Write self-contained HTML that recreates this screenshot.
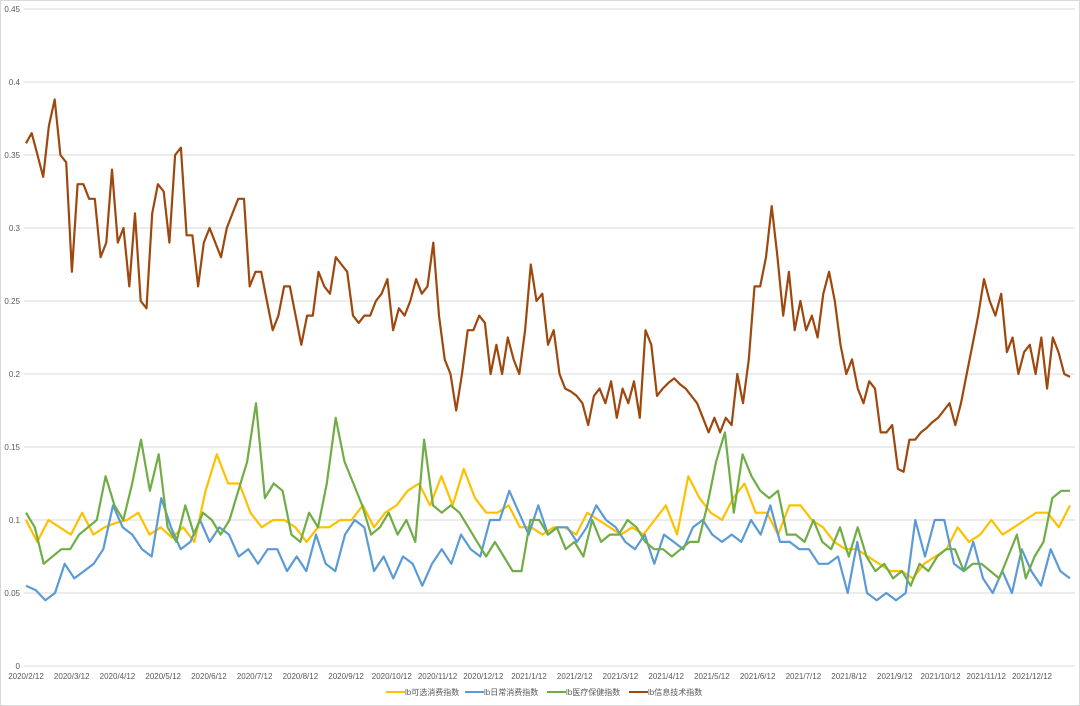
<!DOCTYPE html>
<html><head><meta charset="utf-8"><style>
body{margin:0;background:#fff;}
svg{display:block;font-family:"Liberation Sans","Noto Sans CJK SC",sans-serif;}
</style></head><body>
<svg id="chart" width="1080" height="706">
<rect x="0.5" y="0.5" width="1079" height="705" fill="#fff" stroke="#d9d9d9"/>
<g id="grid"></g><g id="xlab"></g><g id="series"></g><g id="legend"></g>
</svg>
<script>
const yTicks=[0,0.05,0.1,0.15,0.2,0.25,0.3,0.35,0.4,0.45];
const xLabels=["2020/2/12","2020/3/12","2020/4/12","2020/5/12","2020/6/12","2020/7/12","2020/8/12","2020/9/12","2020/10/12","2020/11/12","2020/12/12","2021/1/12","2021/2/12","2021/3/12","2021/4/12","2021/5/12","2021/6/12","2021/7/12","2021/8/12","2021/9/12","2021/10/12","2021/11/12","2021/12/12"];
const seriesNames=["lb可选消费指数","lb日常消费指数","lb医疗保健指数","lb信息技术指数"];
const seriesColors=["#ffc000","#5b9bd5","#70ad47","#9e480e"];
const consumerDisc=[.1,.085,.1,.095,.09,.105,.09,.095,.098,.1,.105,.09,.095,.088,.095,.085,.12,.145,.125,.125,.105,.095,.1,.1,.095,.085,.095,.095,.1,.1,.11,.095,.105,.11,.12,.125,.11,.13,.11,.135,.115,.105,.105,.11,.095,.095,.09,.095,
.095,.09,.105,.1,.095,.09,.095,.09,.1,.11,.09,.13,.115,.105,.1,.115,.125,.105,.105,.09,.11,.11,.1,.095,.085,.08,.08,.075,.07,.065,.065,.06,.07,.075,.08,.095,.085,.09,.1,.09,.095,.1,.105,.105,.095,.11];
const consumerStaples=[.055,.052,.045,.05,.07,.06,.065,.07,.08,.11,.095,.09,.08,.075,.115,.095,.08,.085,.1,.085,.095,.09,.075,.08,.07,.08,.08,.065,.075,.065,.09,.07,.065,.09,.1,.095,.065,.075,.06,.075,.07,.055,.07,.08,.07,.09,.08,.075,.1,.1,.12,.105,.09,.11,.09,.095,
.095,.085,.095,.11,.1,.095,.085,.08,.09,.07,.09,.085,.08,.095,.1,.09,.085,.09,.085,.1,.09,.11,.085,.085,.08,.08,.07,.07,.075,.05,.085,.05,.045,.05,.045,.05,.1,.075,.1,.1,.07,.065,.085,.06,.05,.065,.05,.08,.065,.055,.08,.065,.06];
const healthCare=[.105,.095,.07,.075,.08,.08,.09,.095,.1,.13,.11,.1,.125,.155,.12,.145,.095,.085,.11,.09,.105,.1,.09,.1,.12,.14,.18,.115,.125,.12,.09,.085,.105,.095,.125,.17,.14,.125,.11,.09,.095,.105,.09,.1,.085,.155,.11,.105,.11,.105,.095,.085,.075,.085,.075,.065,.065,.1,.1,.09,.095,.08,.085,.075,.1,
.085,.09,.09,.1,.095,.085,.08,.08,.075,.08,.085,.085,.11,.14,.16,.105,.145,.13,.12,.115,.12,.09,.09,.085,.1,.085,.08,.095,.075,.095,.075,.065,.07,.06,.065,.055,.07,.065,.075,.08,.08,.065,.07,.07,.065,.06,.075,.09,.06,.075,.085,.115,.12,.12];
const infoTech=[.358,.365,.35,.335,.37,.388,.35,.345,.27,.33,.33,.32,.32,.28,.29,.34,.29,.3,.26,.31,.25,.245,.31,.33,.325,.29,.35,.355,.295,.295,.26,.29,.3,.29,.28,.3,.31,.32,.32,.26,.27,.27,.25,.23,.24,.26,.26,.24,.22,.24,.24,.27,.26,.255,.28,.275,.27,.24,.235,.24,.24,.25,.255,.265,.23,.245,.24,.25,.265,.255,.26,.29,.24,.21,.2,.175,.2,.23,.23,.24,.235,.2,.22,.2,.225,.21,.2,.23,.275,.25,.255,.22,.23,.2,.19,.188,.185,.18,.165,.185,.19,.18,.195,.17,.19,.18,.195,.17,.23,.22,.185,.19,.194,.197,.193,.19,.185,.18,.17,.16,.17,.16,.17,.165,.2,.18,.21,.26,.26,.28,.315,.28,.24,.27,.23,.25,.23,.24,.225,.255,.27,.25,.22,.2,.21,.19,.18,.195,.19,.16,.16,.165,.135,.133,.155,.155,.16,.163,.167,.17,.175,.18,.165,.18,.2,.22,.24,.265,.25,.24,.255,.215,.225,.2,.215,.22,.2,.225,.19,.225,.215,.2,.198];
const allSeries=[consumerDisc,consumerStaples,healthCare,infoTech];
const seriesKeys=["consumer-discretionary","consumer-staples","health-care","info-tech"];

const X0=26,X1=1070,Y0=666,YMAX=0.45,YTOP=9;
const y=v=>Y0-(v/YMAX)*(Y0-YTOP);
const xi=(i,n)=>X0+(X1-X0)*i/(n-1);
const ns="http://www.w3.org/2000/svg";
function mk(tag,attrs,parent){const e=document.createElementNS(ns,tag);for(const k in attrs)e.setAttribute(k,attrs[k]);parent.appendChild(e);return e;}
const grid=document.getElementById('grid');
yTicks.forEach(t=>{
  const l=mk('line',{x1:24,x2:1075,y1:y(t),y2:y(t),stroke:'#d9d9d9','stroke-width':1},grid);
  
  
  const tx=mk('text',{x:20,y:y(t)+3,'text-anchor':'end','font-size':8,fill:'#595959'},grid);
  tx.textContent=String(t);
  
  
});
const xl=document.getElementById('xlab');
const monthPx=(1032-26)/(xLabels.length-1);
xLabels.forEach((s,i)=>{
  const tx=mk('text',{x:26+i*monthPx,y:679,'text-anchor':'middle','font-size':8,fill:'#595959'},xl);
  tx.textContent=s;
  
  
});
const sg=document.getElementById('series');
allSeries.forEach((d,k)=>{
  const pts=d.map((v,i)=>xi(i,d.length).toFixed(1)+','+y(v).toFixed(1)).join(' ');
  const p=mk('polyline',{points:pts,fill:'none',stroke:seriesColors[k],'stroke-width':2.2,'stroke-linejoin':'round'},sg);
  
  
});
const lg=document.getElementById('legend');
const lx=[386,465,547,629];
seriesNames.forEach((s,k)=>{
  const g=mk('g',{},lg);
  
  
  mk('line',{x1:lx[k],x2:lx[k]+19,y1:692,y2:692,stroke:seriesColors[k],'stroke-width':2},g);
  const t=mk('text',{x:lx[k]+19,y:695,'font-size':8,fill:'#595959'},g);
  t.textContent=s;
});
</script>
</body></html>
